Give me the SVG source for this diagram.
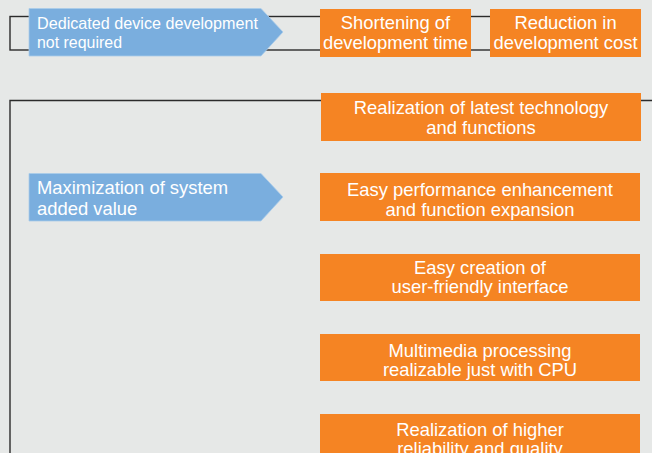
<svg xmlns="http://www.w3.org/2000/svg" width="652" height="453" viewBox="0 0 652 453">
<style>
.frame{fill:none;stroke:#2b2b2b;stroke-width:1.4}
.arrow{fill:#7AAEDE;stroke:#A9CBEA;stroke-width:0.8}
.box{fill:#F58423}
text{font-family:"Liberation Sans",Arial,sans-serif;font-size:18.4px;fill:#ffffff}
.c{text-anchor:middle}
.s{font-size:17px}
</style>
<rect width="652" height="453" fill="#E6E8E7"/>
<g id="connectors">
<rect class="frame" x="10" y="16.5" width="625" height="33.5"/>
<path class="frame" d="M10,460 V100.5 H660"/>
</g>
<g id="arrow1">
<path class="arrow" d="M29,8.5 H261 L283,32 L261,56 H29 Z"/>
<text class="s" x="37" y="28.5" textLength="221" lengthAdjust="spacingAndGlyphs">Dedicated device development</text>
<text class="s" x="37" y="48" textLength="85" lengthAdjust="spacingAndGlyphs">not required</text>
</g>
<g id="box-shortening">
<rect class="box" x="320" y="9" width="151" height="48"/>
<text class="c" x="395.5" y="28.5">Shortening of</text>
<text class="c" x="395.5" y="48.5">development time</text>
</g>
<g id="box-reduction">
<rect class="box" x="490" y="9" width="151" height="48"/>
<text class="c" x="565.5" y="28.5">Reduction in</text>
<text class="c" x="565.5" y="48.5">development cost</text>
</g>
<g id="arrow2">
<path class="arrow" d="M29,173.5 H261 L283,197 L261,221 H29 Z"/>
<text x="37" y="193.5">Maximization of system</text>
<text x="37" y="215">added value</text>
</g>
<g id="box-latest">
<rect class="box" x="321" y="93" width="320" height="48"/>
<text class="c" x="481" y="114">Realization of latest technology</text>
<text class="c" x="481" y="134">and functions</text>
</g>
<g id="box-performance">
<rect class="box" x="320" y="173" width="320" height="48"/>
<text class="c" x="480" y="196">Easy performance enhancement</text>
<text class="c" x="480" y="216">and function expansion</text>
</g>
<g id="box-interface">
<rect class="box" x="320" y="254" width="320" height="47"/>
<text class="c" x="480" y="274">Easy creation of</text>
<text class="c" x="480" y="293">user-friendly interface</text>
</g>
<g id="box-multimedia">
<rect class="box" x="320" y="334" width="320" height="47"/>
<text class="c" x="480" y="357">Multimedia processing</text>
<text class="c" x="480" y="376">realizable just with CPU</text>
</g>
<g id="box-reliability">
<rect class="box" x="320" y="414" width="320" height="47"/>
<text class="c" x="480" y="436">Realization of higher</text>
<text class="c" x="480" y="455">reliability and quality</text>
</g>
</svg>
